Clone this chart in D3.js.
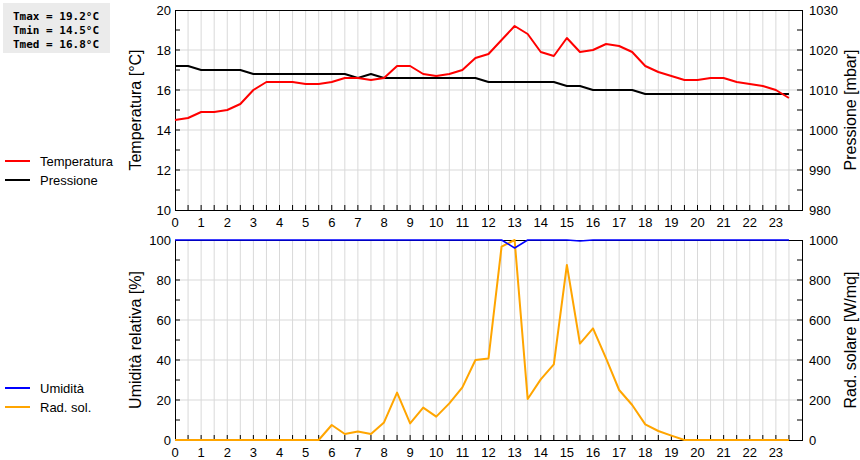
<!DOCTYPE html>
<html>
<head>
<meta charset="utf-8">
<script src="https://cdn.jsdelivr.net/npm/d3@7"></script>
<style>
  body { margin: 0; background: #fff; }
  svg text { font-family: "Liberation Sans", Arial, sans-serif; }
  svg text.stat { font-family: "DejaVu Sans Mono", monospace; font-weight: bold; }
</style>
</head>
<body>
<div id="chart"></div>
<script>
// half-hour readings, 0:00 .. 23:30
const hours = d3.range(0, 24, 0.5);
const temperatura = [14.5, 14.6, 14.9, 14.9, 15.0, 15.3, 16.0, 16.4, 16.4, 16.4, 16.3, 16.3,
  16.4, 16.6, 16.6, 16.5, 16.6, 17.2, 17.2, 16.8, 16.7, 16.8, 17.0, 17.6,
  17.8, 18.5, 19.2, 18.8, 17.9, 17.7, 18.6, 17.9, 18.0, 18.3, 18.2, 17.9,
  17.2, 16.9, 16.7, 16.5, 16.5, 16.6, 16.6, 16.4, 16.3, 16.2, 16.0, 15.6];
const pressione = [1016, 1016, 1015, 1015, 1015, 1015, 1014, 1014, 1014, 1014, 1014, 1014,
  1014, 1014, 1013, 1014, 1013, 1013, 1013, 1013, 1013, 1013, 1013, 1013,
  1012, 1012, 1012, 1012, 1012, 1012, 1011, 1011, 1010, 1010, 1010, 1010,
  1009, 1009, 1009, 1009, 1009, 1009, 1009, 1009, 1009, 1009, 1009, 1009];
const umidita = [100, 100, 100, 100, 100, 100, 100, 100, 100, 100, 100, 100,
  100, 100, 100, 100, 100, 100, 100, 100, 100, 100, 100, 100,
  100, 100, 96, 100, 100, 100, 100, 99.5, 100, 100, 100, 100,
  100, 100, 100, 100, 100, 100, 100, 100, 100, 100, 100, 100];
const radSolare = [0, 0, 0, 0, 0, 0, 0, 0, 0, 0, 0, 0,
  75, 30, 42, 30, 88, 237, 83, 162, 117, 183, 263, 400,
  408, 967, 1000, 205, 303, 378, 875, 482, 558, 408, 250, 175,
  78, 45, 22, 0, 0, 0, 0, 0, 0, 0, 0, 0];
const hourLabels = d3.range(0, 24);

const W = 860, H = 460;
const left = 175, right = 802;

const svg = d3.select("#chart").append("svg")
  .attr("width", W).attr("height", H);

const x = d3.scaleLinear().domain([0, 24]).range([left, right]);

// draws one panel: grid, frame, ticks, labels
function panel(top, bottom, yL, yR, opt) {
  const g = svg.append("g");
  // vertical grid every half hour
  g.append("g").selectAll("line").data(d3.range(0.5, 24, 0.5)).join("line")
    .attr("x1", d => x(d)).attr("x2", d => x(d))
    .attr("y1", top).attr("y2", bottom)
    .attr("stroke", "#d9d9d9");
  // horizontal grid at major ticks
  g.append("g").selectAll("line").data(opt.majorL.slice(1, -1)).join("line")
    .attr("x1", left).attr("x2", right)
    .attr("y1", d => yL(d)).attr("y2", d => yL(d))
    .attr("stroke", "#d9d9d9");
  // x ticks (inward)
  g.append("g").selectAll("line").data(d3.range(0.5, 24, 0.5)).join("line")
    .attr("x1", d => x(d)).attr("x2", d => x(d))
    .attr("y1", bottom).attr("y2", bottom - 5)
    .attr("stroke", "#000");
  g.append("g").selectAll("text").data(hourLabels).join("text")
    .attr("x", d => x(d)).attr("y", bottom + 17)
    .attr("text-anchor", "middle").attr("font-size", 13)
    .text(d => d);
  // left ticks
  g.append("g").selectAll("line").data(opt.minorL).join("line")
    .attr("x1", left).attr("x2", left + 5)
    .attr("y1", d => yL(d)).attr("y2", d => yL(d))
    .attr("stroke", "#000");
  g.append("g").selectAll("text").data(opt.majorL).join("text")
    .attr("x", left - 4).attr("y", d => yL(d) + 5)
    .attr("text-anchor", "end").attr("font-size", 13)
    .text(d => d);
  // right ticks
  g.append("g").selectAll("line").data(opt.minorR).join("line")
    .attr("x1", right).attr("x2", right - 5)
    .attr("y1", d => yR(d)).attr("y2", d => yR(d))
    .attr("stroke", "#000");
  g.append("g").selectAll("text").data(opt.majorR).join("text")
    .attr("x", right + 7).attr("y", d => yR(d) + 5)
    .attr("font-size", 13)
    .text(d => d);
  // axis titles
  const mid = (top + bottom) / 2;
  g.append("text").attr("transform", `translate(141,${mid}) rotate(-90)`)
    .attr("text-anchor", "middle").attr("font-size", 16).text(opt.titleL);
  g.append("text").attr("transform", `translate(856,${mid}) rotate(-90)`)
    .attr("text-anchor", "middle").attr("font-size", 16).text(opt.titleR);
  return g;
}

function series(yScale, values, color, width) {
  const line = d3.line().x((d, i) => x(hours[i])).y(d => yScale(d));
  svg.append("path").datum(values)
    .attr("d", line).attr("fill", "none")
    .attr("stroke", color).attr("stroke-width", width)
    .attr("stroke-linejoin", "round");
}

function frame(top, bottom) {
  svg.append("rect").attr("x", left + 0.5).attr("y", top + 0.5)
    .attr("width", right - left).attr("height", bottom - top)
    .attr("fill", "none").attr("stroke", "#000");
}

// ---- top panel: temperature / pressure
const yT = d3.scaleLinear().domain([10, 20]).range([210, 10]);
const yP = d3.scaleLinear().domain([980, 1030]).range([210, 10]);
panel(10, 210, yT, yP, {
  majorL: d3.range(10, 21, 2), minorL: d3.range(11, 20, 1),
  majorR: d3.range(980, 1031, 10), minorR: d3.range(985, 1030, 5),
  titleL: "Temperatura [°C]", titleR: "Pressione [mbar]"
});
frame(10, 210);
series(yP, pressione, "#000", 2);
series(yT, temperatura, "#ff0000", 2);

// ---- bottom panel: humidity / solar radiation
const yU = d3.scaleLinear().domain([0, 100]).range([440, 240]);
const yR = d3.scaleLinear().domain([0, 1000]).range([440, 240]);
panel(240, 440, yU, yR, {
  majorL: d3.range(0, 101, 20), minorL: d3.range(10, 100, 10),
  majorR: d3.range(0, 1001, 200), minorR: d3.range(100, 1000, 100),
  titleL: "Umidità relativa [%]", titleR: "Rad. solare [W/mq]"
});
frame(240, 440);
series(yR, radSolare, "#ffa500", 2);
series(yU, umidita, "#0000ff", 1.5);

// ---- legends
function legend(items, y0) {
  items.forEach((it, i) => {
    const y = y0 + i * 19;
    svg.append("line").attr("x1", 5).attr("x2", 30).attr("y1", y).attr("y2", y)
      .attr("stroke", it.color).attr("stroke-width", 2);
    svg.append("text").attr("x", 40).attr("y", y + 5)
      .attr("font-size", 13).text(it.name);
  });
}
legend([{ name: "Temperatura", color: "#ff0000" }, { name: "Pressione", color: "#000" }], 161);
legend([{ name: "Umidità", color: "#0000ff" }, { name: "Rad. sol." , color: "#ffa500" }], 388);

// ---- stats box
const stats = [
  ["Tmax", d3.max(temperatura)],
  ["Tmin", d3.min(temperatura)],
  ["Tmed", d3.mean(temperatura)]
];
svg.append("rect").attr("x", 3).attr("y", 3).attr("width", 107).attr("height", 50)
  .attr("fill", "#ebebeb");
svg.append("g").selectAll("text").data(stats).join("text")
  .attr("class", "stat")
  .attr("x", 13).attr("y", (d, i) => 20 + i * 14)
  .attr("font-size", 11)
  .text(d => `${d[0]} = ${d[1].toFixed(1)}°C`);
</script>
</body>
</html>
